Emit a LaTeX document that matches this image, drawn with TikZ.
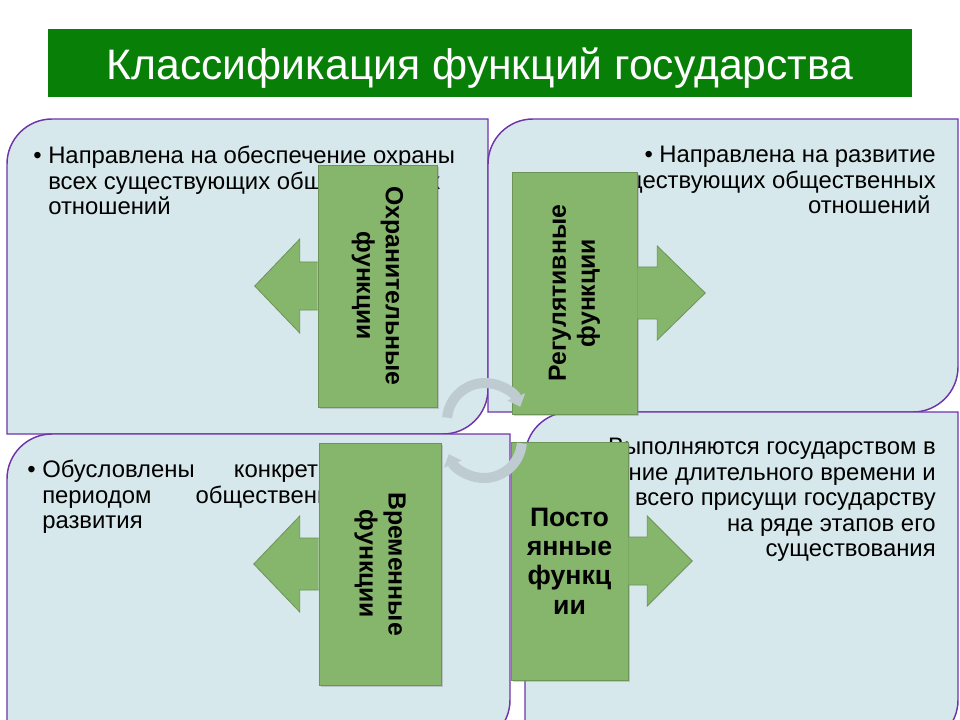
\documentclass[tikz,border=0pt]{standalone}
\usepackage{fontspec}
\setmainfont{Liberation Sans}
\usetikzlibrary{arrows.meta,calc,fit,shadows}

\definecolor{titlegreen}{RGB}{8,128,8}
\definecolor{panelfill}{RGB}{214,232,235}
\definecolor{panelline}{RGB}{112,52,170}
\definecolor{boxgreen}{RGB}{134,181,108}
\definecolor{boxline}{RGB}{108,148,88}
\definecolor{cyclegray}{RGB}{190,203,208}

\begin{document}
\begin{tikzpicture}[x=0.75pt,y=-0.75pt,
    titlebar/.style={fill=titlegreen,inner sep=0pt},
    titletext/.style={text=white,font=\fontsize{32}{36}\selectfont,inner sep=0pt},
    panel/.style={draw=panelline,line width=1.1pt,fill=panelfill},
    paneltext/.style={font=\fontsize{17.9}{19.1}\selectfont,inner sep=0pt},
    fnbox/.style={draw=boxline,fill=boxgreen,inner sep=0pt,
      drop shadow={shadow xshift=1.5pt,shadow yshift=-1.5pt,opacity=0.35}},
    fnlabel/.style={font=\fontsize{18.6}{21.75}\selectfont\bfseries,align=center,inner sep=0pt},
    blockarrow/.style={draw=boxline,fill=boxgreen,line width=0.6pt},
    cyclearrow/.style={draw=cyclegray,line width=7.5pt,-{Triangle[width=14pt,length=8pt]}}]
  \useasboundingbox (0,0) rectangle (960,720);
  \clip (0,0) rectangle (960,720);

  % title
  \node[titlebar,fit={(48,29) (912,97)}] (title) {};
  \node[titletext,anchor=base] (titlelbl) at ([yshift=-12.75pt]title.center)
    {Классификация функций государства};

  % four panels
  \draw[panel] (7,434) -- (7,164) arc[start angle=180,end angle=270,radius=45]
    -- (488,119) -- (488,389) arc[start angle=0,end angle=90,radius=45] -- cycle;
  \draw[panel] (488,412) -- (488,164) arc[start angle=180,end angle=270,radius=45]
    -- (958,119) -- (958,367) arc[start angle=0,end angle=90,radius=45] -- cycle;
  \draw[panel] (7,745) -- (7,479) arc[start angle=180,end angle=270,radius=45]
    -- (510,434) -- (510,700) arc[start angle=0,end angle=90,radius=45] -- cycle;
  \draw[panel] (525,745) -- (525,457) arc[start angle=180,end angle=270,radius=45]
    -- (958,412) -- (958,700) arc[start angle=0,end angle=90,radius=45] -- cycle;

  % panel texts
  \node[paneltext,anchor=north west,align=left] (ohrtext) at (33,146)
    {\makebox[11.25pt][l]{•}Направлена на обеспечение охраны\\
     \hspace*{11.25pt}всех существующих общественных\\
     \hspace*{11.25pt}отношений};
  \node[paneltext,anchor=north east,align=right] (regtext) at (936,146)
    {•\ Направлена на развитие\\
     существующих общественных\\
     отношений\hspace*{4pt}};
  \node[paneltext,anchor=north west,align=left] (vremtext) at (27,460)
    {\makebox[11.25pt][l]{•}\makebox[242pt][l]{Обусловлены\hfill конкретным}\\
     \hspace*{11.25pt}\makebox[242pt][l]{периодом\hfill общественного}\\
     \hspace*{11.25pt}развития};
  \node[paneltext,anchor=north east,align=right] (posttext) at (936,438)
    {•\ Выполняются государством в\\
     течение длительного времени и\\
     прежде всего присущи государству\\
     на ряде этапов его\\
     существования};

  % green boxes
  \node[fnbox,fit={(318,165) (437,407)}] (ohr) {};
  \node[fnbox,fit={(512,172) (637,414)}] (reg) {};
  \node[fnbox,fit={(319,443) (441,685)}] (vrem) {};
  \node[fnbox,fit={(511,442) (628,680)}] (post) {};

  \node[fnlabel,rotate=-90] (ohrlbl) at (ohr.center) {Охранительные\\функции};
  \node[fnlabel,rotate=90] (reglbl) at (reg.center) {Регулятивные\\функции};
  \node[fnlabel,rotate=-90] (vremlbl) at (vrem.center) {Временные\\функции};
  \node[fnlabel,font=\fontsize{20}{22}\selectfont\bfseries] (postlbl) at (post.center)
    {Посто\\янные\\функц\\ии};

  % block arrows
  \filldraw[blockarrow] ($(ohr.west)+(0,-24)$) -- ++(-18,0) -- ++(0,-23)
    -- ($(ohr.west)+(-63,0)$) -- ++(45,47) -- ++(0,-23) -- ($(ohr.west)+(0,24)$);
  \filldraw[blockarrow] ($(reg.east)+(0,-26)$) -- ++(20,0) -- ++(0,-21)
    -- ($(reg.east)+(68,0)$) -- ++(-48,47) -- ++(0,-21) -- ($(reg.east)+(0,26)$);
  \filldraw[blockarrow] ($(vrem.west)+(0,-26)$) -- ++(-19,0) -- ++(0,-22)
    -- ($(vrem.west)+(-65,0)$) -- ++(46,48) -- ++(0,-22) -- ($(vrem.west)+(0,26)$);
  \filldraw[blockarrow] ($(post.east)+(0,-24)$) -- ++(19,0) -- ++(0,-21)
    -- ($(post.east)+(64,0)$) -- ++(-45,45) -- ++(0,-21) -- ($(post.east)+(0,24)$);

  % cycle arrows in the middle
  \coordinate (cyctop) at (485,421);
  \coordinate (cycbot) at (484,440);
  \draw[cyclearrow] (cyctop) ++(185:38) arc[start angle=185,end angle=338,radius=38];
  \draw[cyclearrow] (cycbot) ++(5:38) arc[start angle=5,end angle=158,radius=38];
\end{tikzpicture}
\end{document}
